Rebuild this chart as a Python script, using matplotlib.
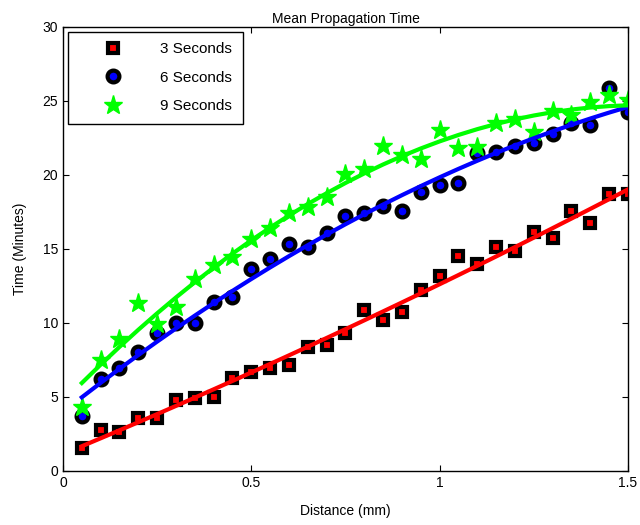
import numpy as np
import matplotlib
matplotlib.use('Agg')
import matplotlib.pyplot as plt
from matplotlib.ticker import FuncFormatter

plt.rcParams['font.family'] = ['Liberation Sans', 'DejaVu Sans']

# distance (mm)
distance = [0.05, 0.10, 0.15, 0.20, 0.25, 0.30, 0.35, 0.40, 0.45, 0.50,
            0.55, 0.60, 0.65, 0.70, 0.75, 0.80, 0.85, 0.90, 0.95, 1.00,
            1.05, 1.10, 1.15, 1.20, 1.25, 1.30, 1.35, 1.40, 1.45, 1.50]

# time (minutes)
t3 = [1.55, 2.77, 2.66, 3.56, 3.56, 4.80, 4.91, 5.02, 6.26, 6.70,
      6.94, 7.16, 8.36, 8.50, 9.35, 10.88, 10.20, 10.76, 12.23, 13.18,
      14.53, 13.96, 15.11, 14.89, 16.17, 15.72, 17.57, 16.73, 18.69, 18.69]
t6 = [3.72, 6.19, 6.94, 8.06, 9.30, 9.98, 9.98, 11.44, 11.78, 13.63,
      14.30, 15.34, 15.11, 16.10, 17.23, 17.41, 17.90, 17.59, 18.87, 19.32,
      19.48, 21.46, 21.53, 21.98, 22.18, 22.77, 23.49, 23.36, 25.86, 24.28]
t9 = [4.35, 7.50, 8.90, 11.37, 9.93, 11.10, 13.00, 13.92, 14.44, 15.65,
      16.40, 17.45, 17.86, 18.53, 20.07, 20.38, 21.96, 21.35, 21.06, 23.04,
      21.80, 21.87, 23.49, 23.76, 22.93, 24.35, 24.05, 24.95, 25.40, 25.07]

labels = ['3 Seconds', '6 Seconds', '9 Seconds']

fig = plt.figure(figsize=(6.4, 5.25), dpi=100)
ax = fig.add_axes([0.0984, 0.1029, 0.8828, 0.8457])

x = np.array(distance)
h1, = ax.plot(x, t3, linestyle='none', marker='s', markersize=7,
              markerfacecolor='r', markeredgecolor='k', markeredgewidth=3,
              label=labels[0])
h2, = ax.plot(x, t6, linestyle='none', marker='o', markersize=8.5,
              markerfacecolor='b', markeredgecolor='k', markeredgewidth=3,
              label=labels[1])
h3, = ax.plot(x, t9, linestyle='none', marker='*', markersize=14,
              markerfacecolor='#00ff00', markeredgecolor='#00ff00',
              label=labels[2])

# quadratic fits
for ys, c in [(t3, 'r'), (t6, 'b'), (t9, '#00ff00')]:
    p = np.polyfit(x, ys, 2)
    ax.plot(x, np.polyval(p, x), color=c, linewidth=3, zorder=3)

ax.set_xlim(0, 1.5)
ax.set_ylim(0, 30)
ax.set_xticks([0, 0.5, 1, 1.5])
ax.set_yticks([0, 5, 10, 15, 20, 25, 30])
ax.xaxis.set_major_formatter(FuncFormatter(lambda v, pos: '%g' % v))
ax.tick_params(direction='in', top=True, right=True, labelsize=10, length=4)
for s in ax.spines.values():
    s.set_linewidth(1)

ax.set_title('Mean Propagation Time', fontsize=10, pad=3)
ax.set_xlabel('Distance (mm)', fontsize=10, labelpad=10)
ax.set_ylabel('Time (Minutes)', fontsize=10, labelpad=11)

leg = ax.legend(handles=[h1, h2, h3], loc='upper left', fontsize=11,
                fancybox=False, edgecolor='k', framealpha=1,
                borderaxespad=0.3, handletextpad=0.85, labelspacing=0.95,
                borderpad=0.7, handlelength=4.5)
leg.get_frame().set_linewidth(1)

fig.savefig('out.png', dpi=100)
